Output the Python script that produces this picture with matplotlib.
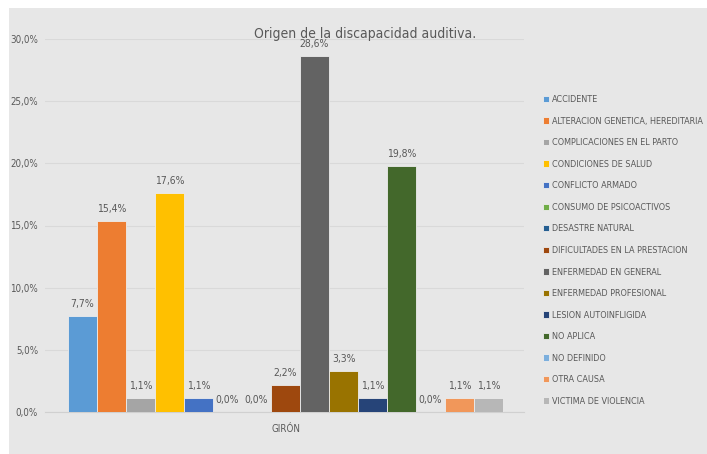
import matplotlib.pyplot as plt
from matplotlib.patches import Rectangle
import numpy as np

# Data
CATEGORY = "GIRÓN"
SERIES = [
    "ACCIDENTE",
    "ALTERACION GENETICA, HEREDITARIA",
    "COMPLICACIONES EN EL PARTO",
    "CONDICIONES DE SALUD",
    "CONFLICTO ARMADO",
    "CONSUMO DE PSICOACTIVOS",
    "DESASTRE NATURAL",
    "DIFICULTADES EN LA PRESTACION",
    "ENFERMEDAD EN GENERAL",
    "ENFERMEDAD PROFESIONAL",
    "LESION AUTOINFLIGIDA",
    "NO APLICA",
    "NO DEFINIDO",
    "OTRA CAUSA",
    "VICTIMA DE VIOLENCIA",
]
VALUES = [7.7, 15.4, 1.1, 17.6, 1.1, 0.0, 0.0, 2.2, 28.6, 3.3, 1.1, 19.8, 0.0, 1.1, 1.1]
COLORS = ["#5B9BD5", "#ED7D31", "#A5A5A5", "#FFC000", "#4472C4", "#70AD47",
          "#255E91", "#9E480E", "#636363", "#997300", "#264478", "#43682B",
          "#7CAFDD", "#F1975A", "#B7B7B7"]
Y_TICKS = [0, 5, 10, 15, 20, 25, 30]

plt.rcParams['font.family'] = ['DejaVu Sans']
plt.rcParams['font.stretch'] = 'condensed'
TXT = "#595959"
BG = "#E7E7E7"

fig = plt.figure(figsize=(7.07, 4.54), dpi=100)
fig.patch.set_facecolor("white")
# gray chart panel with a small white margin top/left
fig.patches.append(Rectangle((9 / 707, 0), 1, 1 - 8 / 454, transform=fig.transFigure,
                             facecolor=BG, edgecolor="none", zorder=-10))

ax = fig.add_axes([45 / 707, 1 - 412 / 454, 479 / 707, (412 - 39) / 454])
ax.set_facecolor("none")

x = np.arange(len(VALUES))
for i, (v, c, name) in enumerate(zip(VALUES, COLORS, SERIES)):
    ax.bar(x[i], v, width=1.0, color=c, edgecolor="#EDEDED", linewidth=0.6,
           label=name, zorder=3)
    ax.annotate(f"{v:.1f}%".replace(".", ","), (x[i], v), xytext=(0, 5),
                textcoords="offset points", ha="center", va="bottom",
                fontsize=7.5, color=TXT)

ax.set_xlim(-1.29, 15.22)
ax.set_ylim(0, 30)
ax.set_yticks(Y_TICKS)
ax.set_yticklabels([f"{t:.1f}%".replace(".", ",") for t in Y_TICKS], fontsize=7, color=TXT)
ax.set_xticks([(x[0] + x[-1]) / 2])
ax.set_xticklabels([CATEGORY], fontsize=7, color=TXT)
ax.tick_params(axis="both", length=0)
ax.tick_params(axis="y", pad=5)
ax.tick_params(axis="x", pad=9)
ax.grid(axis="y", color="#D9D9D9", linewidth=0.8, zorder=0)
for s in ["top", "right", "left"]:
    ax.spines[s].set_visible(False)
ax.spines["bottom"].set_color("#D0D0D0")

fig.text(365 / 707, 1 - 38 / 454, "Origen de la discapacidad auditiva.", ha="center",
         va="baseline", fontsize=10, color=TXT)

leg = fig.legend(loc="upper left", bbox_to_anchor=(535 / 707, 1 - 87 / 454),
                 frameon=False, fontsize=6.5, labelcolor=TXT, handlelength=0.7,
                 handleheight=0.7, handletextpad=0.3, labelspacing=1.39)

fig.savefig("out.png", dpi=100, facecolor=fig.get_facecolor())
